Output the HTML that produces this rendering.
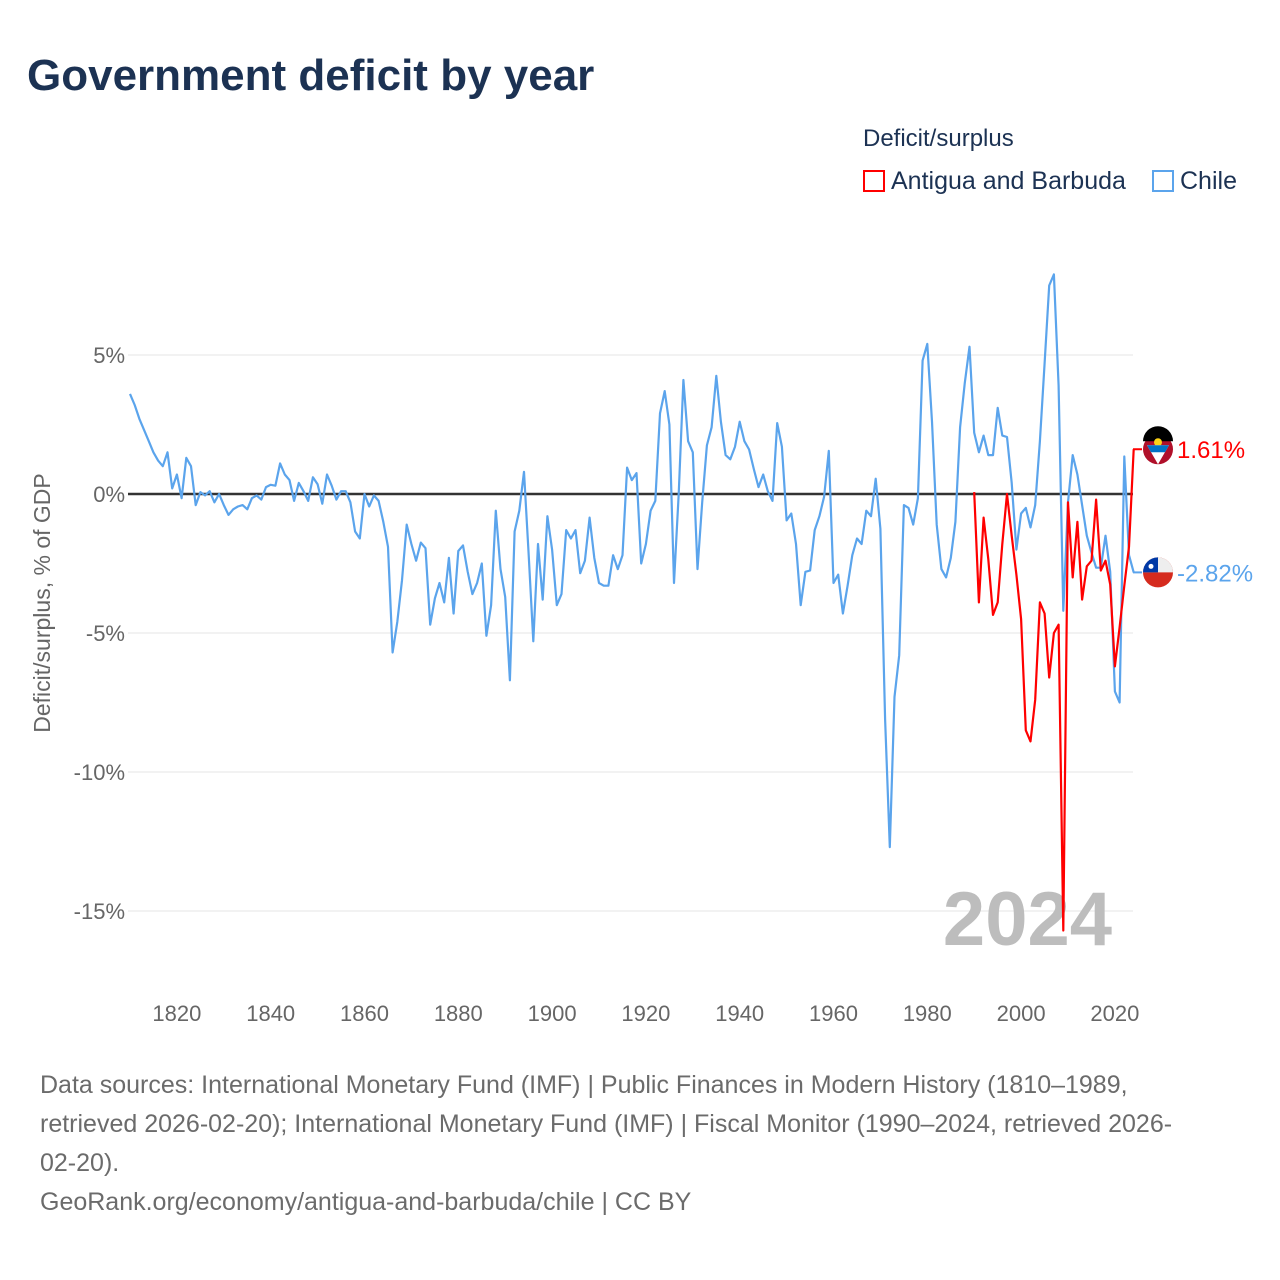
<!DOCTYPE html>
<html><head><meta charset="utf-8">
<style>
body{margin:0;background:#fff;font-family:"Liberation Sans",sans-serif;}
#wrap{position:relative;width:1280px;height:1280px;overflow:hidden;}
.t{position:absolute;white-space:nowrap;}
</style></head>
<body>
<div id="wrap">
<div class="t" style="left:27px;top:51px;font-size:44px;font-weight:bold;color:#1c3253;">Government deficit by year</div>
<div class="t" style="left:863px;top:125px;font-size:24px;color:#1c3253;">Deficit/surplus</div>
<div class="t" style="left:863px;top:167px;font-size:25px;color:#1c3253;"><span style="display:inline-block;width:22px;height:22px;border:2px solid #f00;box-sizing:border-box;vertical-align:-3px;margin-right:6px;"></span>Antigua and Barbuda</div>
<div class="t" style="left:1152px;top:167px;font-size:25px;color:#1c3253;"><span style="display:inline-block;width:22px;height:22px;border:2px solid #5ba4ec;box-sizing:border-box;vertical-align:-3px;margin-right:6px;"></span>Chile</div>
<svg id="chart" width="1280" height="1280" style="position:absolute;left:0;top:0;"></svg>
<div class="t" style="left:40px;top:1066px;font-size:25px;line-height:39px;color:#6b6b6b;">Data sources: International Monetary Fund (IMF) | Public Finances in Modern History (1810–1989,<br>retrieved 2026-02-20); International Monetary Fund (IMF) | Fiscal Monitor (1990–2024, retrieved 2026-<br>02-20).<br>GeoRank.org/economy/antigua-and-barbuda/chile | CC BY</div>
</div>
<script>
const chileStart = 1810;
const chileValues = [3.6,3.2,2.7,2.3,1.9,1.5,1.2,1.0,1.5,0.2,0.7,-0.15,1.3,1.0,-0.4,0.07,-0.05,0.1,-0.3,0,-0.4,-0.75,-0.55,-0.45,-0.4,-0.55,-0.15,-0.05,-0.2,0.25,0.33,0.3,1.1,0.7,0.5,-0.25,0.4,0.1,-0.25,0.6,0.35,-0.35,0.7,0.3,-0.2,0.1,0.1,-0.3,-1.35,-1.6,0,-0.45,-0.05,-0.25,-1.0,-1.9,-5.7,-4.6,-3.1,-1.1,-1.8,-2.4,-1.75,-1.95,-4.7,-3.75,-3.2,-3.9,-2.3,-4.3,-2.05,-1.85,-2.8,-3.6,-3.2,-2.5,-5.1,-4.0,-0.6,-2.7,-3.7,-6.7,-1.35,-0.6,0.8,-2.2,-5.3,-1.8,-3.8,-0.8,-2.0,-4.0,-3.6,-1.3,-1.6,-1.3,-2.85,-2.4,-0.85,-2.3,-3.2,-3.3,-3.3,-2.2,-2.7,-2.2,0.95,0.5,0.75,-2.5,-1.8,-0.6,-0.25,2.9,3.7,2.5,-3.2,0,4.1,1.9,1.5,-2.7,-0.3,1.75,2.4,4.25,2.6,1.4,1.25,1.7,2.6,1.9,1.6,0.9,0.25,0.7,0.1,-0.25,2.55,1.7,-0.95,-0.7,-1.8,-4.0,-2.8,-2.75,-1.3,-0.8,-0.1,1.55,-3.2,-2.9,-4.3,-3.3,-2.2,-1.6,-1.8,-0.6,-0.8,0.55,-1.25,-8.1,-12.7,-7.3,-5.8,-0.4,-0.5,-1.1,-0.15,4.8,5.4,2.6,-1.1,-2.7,-3.0,-2.3,-1.0,2.4,4.0,5.3,2.2,1.5,2.1,1.4,1.4,3.1,2.1,2.05,0.4,-2.0,-0.7,-0.5,-1.2,-0.4,1.9,4.7,7.5,7.9,3.9,-4.2,-0.3,1.4,0.7,-0.4,-1.5,-2.1,-2.65,-2.65,-1.5,-2.8,-7.1,-7.5,1.35,-2.2,-2.82];
const antiguaStart = 1990;
const antiguaValues = [0.07,-3.9,-0.85,-2.35,-4.35,-3.9,-1.8,0,-1.5,-2.9,-4.5,-8.5,-8.9,-7.4,-3.9,-4.3,-6.6,-5.0,-4.7,-15.7,-0.3,-3.0,-1.0,-3.8,-2.6,-2.4,-0.2,-2.75,-2.4,-3.25,-6.2,-4.8,-3.3,-1.9,1.61];
const yTicks = [5,0,-5,-10,-15];
const yTickLabels = ["5%","0%","-5%","-10%","-15%"];
const xTicks = [1820,1840,1860,1880,1900,1920,1940,1960,1980,2000,2020];

const NS="http://www.w3.org/2000/svg";
const svg=document.getElementById('chart');
const X0=128,X1=1133;
const xs=yr=>130+(yr-1810)*4.69;
const ys=v=>494-v*27.8;
function mk(tag,attrs,parent){const e=document.createElementNS(NS,tag);for(const k in attrs)e.setAttribute(k,attrs[k]);(parent||svg).appendChild(e);return e;}

yTicks.forEach((v,i)=>{
  const g=mk('line',{x1:X0,x2:X1,y1:ys(v),y2:ys(v),stroke:'#e6e6e6','stroke-width':1});
  
  
  const t=mk('text',{x:125,y:ys(v)+8,'text-anchor':'end','font-size':22,fill:'#666','font-family':'Liberation Sans, sans-serif'});
  t.textContent=yTickLabels[i];
  
  
});
xTicks.forEach(yr=>{
  const t=mk('text',{x:xs(yr),y:1021,'text-anchor':'middle','font-size':22,fill:'#666','font-family':'Liberation Sans, sans-serif'});
  t.textContent=yr;
  
  
});
const yl=mk('text',{x:0,y:0,transform:'translate(50,603) rotate(-90)','text-anchor':'middle','font-size':23,fill:'#666','font-family':'Liberation Sans, sans-serif'});
yl.textContent='Deficit/surplus, % of GDP';



const wm=mk('text',{x:1112,y:945,'text-anchor':'end','font-size':76,'font-weight':'bold',fill:'#bdbdbd','font-family':'Liberation Sans, sans-serif'});
wm.textContent='2024';



const zl=mk('line',{x1:X0,x2:X1,y1:ys(0),y2:ys(0),stroke:'#333','stroke-width':2.5});



function series(start,vals,color,name){
  const d=vals.map((v,i)=>(i?'L':'M')+xs(start+i).toFixed(1)+','+ys(v).toFixed(1)).join('');
  const p=mk('path',{d:d,fill:'none',stroke:color,'stroke-width':2.2,'stroke-linejoin':'round'});
  
  
}
series(chileStart,chileValues,'#5ba4ec','chile-line');
series(antiguaStart,antiguaValues,'#ff0000','antigua-line');

function endLabel(vals,color,label,name,kind){
  const v=vals[vals.length-1];const y=ys(v);
  const c=mk('line',{x1:X1,x2:1142,y1:y,y2:y,stroke:color,'stroke-width':2});
  
  
  const cx=1158;
  if(kind==='ag'){
    mk('circle',{cx:cx,cy:y,r:15,fill:'#b0102a'});
    mk('path',{d:`M${cx-15},${y-8} A15 15 0 0 1 ${cx+15},${y-8} Z`,fill:'#000'});
    mk('circle',{cx:cx,cy:y-7,r:4,fill:'#fcd116'});
    mk('polygon',{points:`${cx-11},${y-4} ${cx+11},${y-4} ${cx},${y+15}`,fill:'#fff'});
    mk('polygon',{points:`${cx-11},${y-4} ${cx+11},${y-4} ${cx+7},${y+3} ${cx-7},${y+3}`,fill:'#0072c6'});
  } else {
    mk('circle',{cx:cx,cy:y,r:15,fill:'#d52b1e'});
    mk('path',{d:`M${cx-15},${y} A15 15 0 0 1 ${cx+15},${y} Z`,fill:'#eee'});
    mk('path',{d:`M${cx-15},${y} A15 15 0 0 1 ${cx},${y-15} L${cx},${y} Z`,fill:'#0039a6'});
    mk('circle',{cx:cx-7,cy:y-6,r:2.5,fill:'#fff'});
  }
  const t=mk('text',{x:1177,y:y+9,'font-size':24,fill:color,'font-family':'Liberation Sans, sans-serif'});
  t.textContent=label;
  
  
}
endLabel(antiguaValues,'#ff0000','1.61%','antigua','ag');
endLabel(chileValues,'#5ba4ec','-2.82%','chile','cl');
</script>
</body></html>
